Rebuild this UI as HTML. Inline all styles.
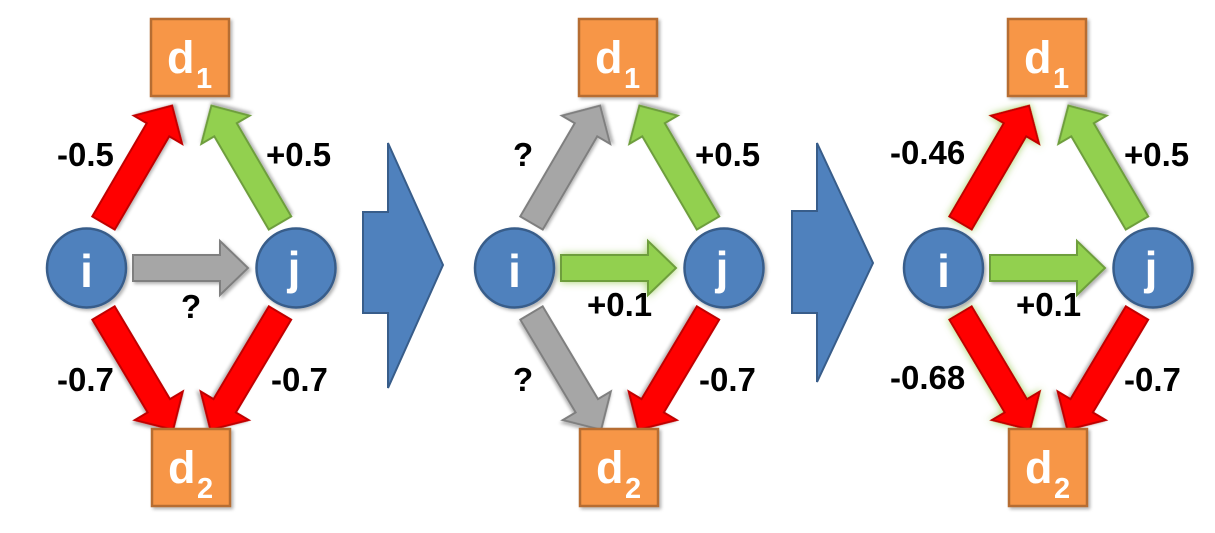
<!DOCTYPE html>
<html><head><meta charset="utf-8"><style>
html,body{margin:0;padding:0;background:#fff;}
svg{display:block;}
.lb{font-family:"Liberation Sans",sans-serif;font-weight:bold;font-size:33px;fill:#000;}
.nd{font-family:"Liberation Sans",sans-serif;font-weight:bold;fill:#fff;}
</style></head><body>
<svg width="1215" height="533" viewBox="0 0 1215 533" xmlns="http://www.w3.org/2000/svg">
<defs>
<filter id="sh" x="-20%" y="-20%" width="150%" height="150%"><feDropShadow dx="2" dy="2" stdDeviation="1.5" flood-color="#000" flood-opacity="0.3"/></filter>
<filter id="gl" x="-30%" y="-30%" width="160%" height="160%"><feDropShadow dx="0" dy="0" stdDeviation="4" flood-color="#9BCB5A" flood-opacity="0.9"/></filter>
<polygon id="ad" points="0,-13 108,-13 108,-28 136,0 108,28 108,13 0,13" stroke-width="2" stroke-linejoin="miter"/>
<polygon id="ah" points="0,-13 87,-13 87,-27 115,0 87,27 87,13 0,13" stroke-width="2"/>
<g id="nodes">
  <rect x="151" y="19" width="78" height="77" fill="#F79646" stroke="#B66D31" stroke-width="2.5" filter="url(#sh)"/>
  <text class="nd" x="167" y="73" font-size="45">d</text><text class="nd" x="196" y="88" font-size="29">1</text>
  <rect x="152" y="429" width="78" height="77" fill="#F79646" stroke="#B66D31" stroke-width="2.5" filter="url(#sh)"/>
  <text class="nd" x="168" y="483" font-size="45">d</text><text class="nd" x="197" y="498" font-size="29">2</text>
  <circle cx="86.5" cy="268" r="39.5" fill="#4F81BD" stroke="#385D8A" stroke-width="2.5" filter="url(#sh)"/>
  <text class="nd" x="86.5" y="287" font-size="46" text-anchor="middle">i</text>
  <circle cx="296" cy="268" r="39.5" fill="#4F81BD" stroke="#385D8A" stroke-width="2.5" filter="url(#sh)"/>
  <text class="nd" x="294" y="284" font-size="46" text-anchor="middle">j</text>
</g>
</defs>

<!-- Panel 1 -->
<g>
<use href="#ad" transform="translate(103.5,223) rotate(-59.7)" fill="#FF0000" stroke="#C00000" filter="url(#sh)"/>
<use href="#ad" transform="translate(280,223) rotate(-120.3)" fill="#92D050" stroke="#6E9E3C" filter="url(#sh)"/>
<use href="#ad" transform="translate(103.5,313) rotate(59.2)" fill="#FF0000" stroke="#C00000" filter="url(#sh)"/>
<use href="#ad" transform="translate(280,313) rotate(120.8)" fill="#FF0000" stroke="#C00000" filter="url(#sh)"/>
<use href="#ah" transform="translate(133,268)" fill="#A6A6A6" stroke="#7F7F7F" filter="url(#sh)"/>
<use href="#nodes"/>
<text class="lb" x="57" y="166">-0.5</text>
<text class="lb" x="266" y="166">+0.5</text>
<text class="lb" x="181" y="318">?</text>
<text class="lb" x="57" y="391">-0.7</text>
<text class="lb" x="271" y="391">-0.7</text>
</g>

<polygon points="363,212 388,212 388,143 443,265 388,388 388,313 363,313" fill="#4F81BD" stroke="#385D8A" stroke-width="2"/>

<!-- Panel 2 -->
<g transform="translate(428,0)">
<use href="#ad" transform="translate(103.5,223) rotate(-59.7)" fill="#A6A6A6" stroke="#7F7F7F" filter="url(#sh)"/>
<use href="#ad" transform="translate(280,223) rotate(-120.3)" fill="#92D050" stroke="#6E9E3C" filter="url(#sh)"/>
<use href="#ad" transform="translate(103.5,313) rotate(59.2)" fill="#A6A6A6" stroke="#7F7F7F" filter="url(#sh)"/>
<use href="#ad" transform="translate(280,313) rotate(120.8)" fill="#FF0000" stroke="#C00000" filter="url(#sh)"/>
<use href="#ah" transform="translate(133,268)" fill="#92D050" stroke="#6E9E3C" filter="url(#gl)"/>
<use href="#nodes"/>
<text class="lb" x="85" y="166">?</text>
<text class="lb" x="267" y="166">+0.5</text>
<text class="lb" x="159" y="316">+0.1</text>
<text class="lb" x="85" y="391">?</text>
<text class="lb" x="271" y="391">-0.7</text>
</g>

<polygon points="792,211 817,211 817,143 873,263 817,382 817,313 792,313" fill="#4F81BD" stroke="#385D8A" stroke-width="2"/>

<!-- Panel 3 -->
<g transform="translate(857,0)">
<use href="#ad" transform="translate(103.5,223) rotate(-59.7)" fill="#FF0000" stroke="#C00000" filter="url(#gl)"/>
<use href="#ad" transform="translate(280,223) rotate(-120.3)" fill="#92D050" stroke="#6E9E3C" filter="url(#sh)"/>
<use href="#ad" transform="translate(103.5,313) rotate(59.2)" fill="#FF0000" stroke="#C00000" filter="url(#gl)"/>
<use href="#ad" transform="translate(280,313) rotate(120.8)" fill="#FF0000" stroke="#C00000" filter="url(#sh)"/>
<use href="#ah" transform="translate(133,268)" fill="#92D050" stroke="#6E9E3C" filter="url(#sh)"/>
<use href="#nodes"/>
<text class="lb" x="33" y="164">-0.46</text>
<text class="lb" x="267" y="166">+0.5</text>
<text class="lb" x="159" y="316">+0.1</text>
<text class="lb" x="33" y="389">-0.68</text>
<text class="lb" x="267" y="391">-0.7</text>
</g>
</svg>
</body></html>
